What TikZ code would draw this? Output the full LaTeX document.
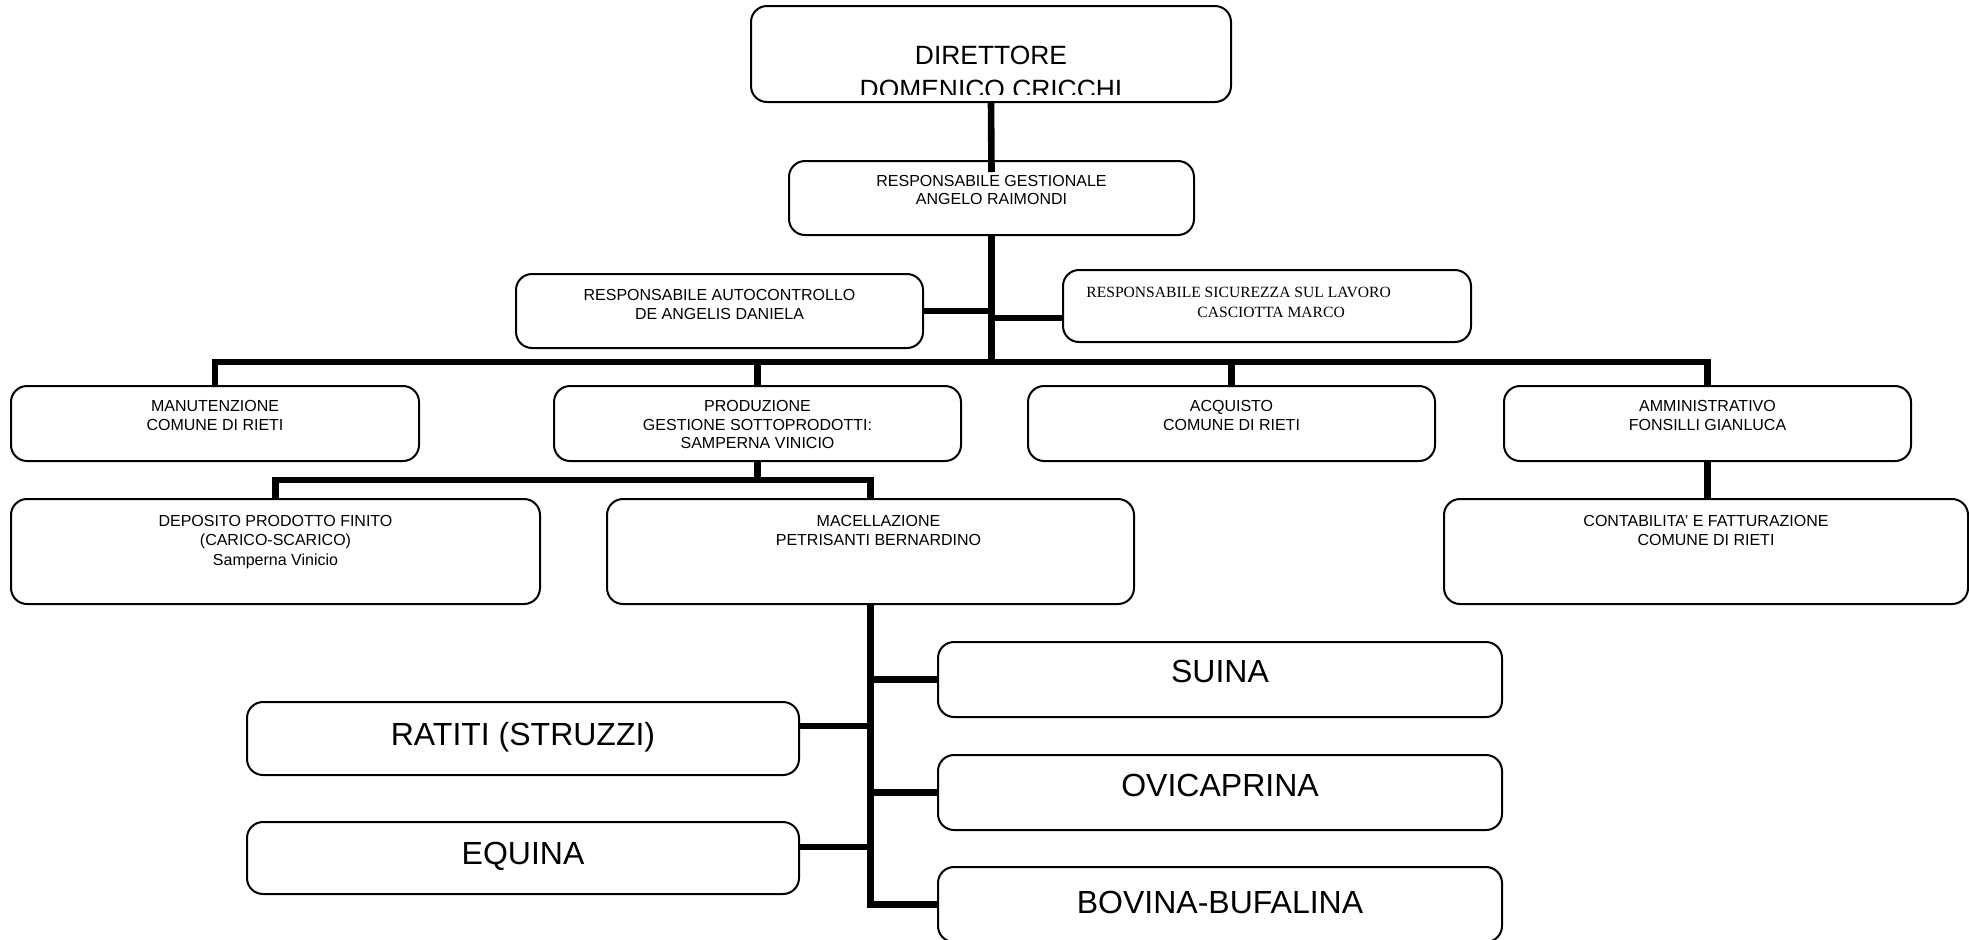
\documentclass[tikz,border=0pt]{standalone}
\usepackage{fontspec}
\setmainfont{Liberation Sans}
\newfontfamily\timesfont{Liberation Serif}
\usetikzlibrary{calc}
\begin{document}
\begin{tikzpicture}[x=0.5pt,y=-0.5pt,
  orgbox/.style 2 args={draw, line width=1pt, rounded corners=8pt, fill=white,
    inner sep=0pt, minimum width=#1*0.5pt, minimum height=#2*0.5pt},
  conn/.style={line width=3.3pt, line join=miter},
  st/.style={inner sep=0pt, anchor=base, font=\fontsize{8pt}{9.5pt}\selectfont},
  sst/.style={inner sep=0pt, anchor=base west, font=\timesfont\fontsize{7.8pt}{9.5pt}\selectfont},
  bt/.style={inner sep=0pt, anchor=base, font=\fontsize{16pt}{19pt}\selectfont},
  dt/.style={inner sep=0pt, anchor=base, font=\fontsize{13.2pt}{16pt}\selectfont}]
\useasboundingbox (0,0) rectangle (1969,939);

% boxes
\node[orgbox={480}{96}] (dir) at (991,54) {};
\node[orgbox={405}{74}] (gest) at (991.5,198) {};
\node[orgbox={407}{74}] (auto) at (719.5,311) {};
\node[orgbox={408}{72}] (sic) at (1267,306) {};
\node[orgbox={408}{75}] (manu) at (215,423.5) {};
\node[orgbox={407}{75}] (prod) at (757.5,423.5) {};
\node[orgbox={407}{75}] (acq) at (1231.5,423.5) {};
\node[orgbox={407}{75}] (amm) at (1707.5,423.5) {};
\node[orgbox={529}{105}] (depo) at (275.5,551.5) {};
\node[orgbox={527}{105}] (mac) at (870.5,551.5) {};
\node[orgbox={524}{105}] (cont) at (1706,551.5) {};
\node[orgbox={564}{75}] (suina) at (1220,679.5) {};
\node[orgbox={564}{75}] (ovi) at (1220,792.5) {};
\node[orgbox={564}{75}] (bov) at (1220,904.5) {};
\node[orgbox={552}{73}] (ratiti) at (523,738.5) {};
\node[orgbox={552}{72}] (equina) at (523,858) {};

% texts
\begin{scope}
\clip (751,6) rectangle (1231,94);
\node[dt] (dir1) at ($(dir.north)+(0,59)$) {DIRETTORE};
\node[dt] (dir2) at ($(dir.north)+(0,93)$) {DOMENICO CRICCHI};
\end{scope}
\node[st] (gest1) at ($(gest.north)+(0,26)$) {RESPONSABILE GESTIONALE};
\node[st] (gest2) at ($(gest.north)+(0,44)$) {ANGELO RAIMONDI};
\node[st] (auto1) at ($(auto.north)+(0,27)$) {RESPONSABILE AUTOCONTROLLO};
\node[st] (auto2) at ($(auto.north)+(0,46)$) {DE ANGELIS DANIELA};
\node[sst] (sic1) at ($(sic.north west)+(24,28)$) {RESPONSABILE SICUREZZA SUL LAVORO};
\node[sst] (sic2) at ($(sic.north west)+(135,48)$) {CASCIOTTA MARCO};
\node[st] (manu1) at ($(manu.north)+(0,26)$) {MANUTENZIONE};
\node[st] (manu2) at ($(manu.north)+(0,45)$) {COMUNE DI RIETI};
\node[st] (prod1) at ($(prod.north)+(0,26)$) {PRODUZIONE};
\node[st] (prod2) at ($(prod.north)+(0,45)$) {GESTIONE SOTTOPRODOTTI:};
\node[st] (prod3) at ($(prod.north)+(0,63)$) {SAMPERNA VINICIO};
\node[st] (acq1) at ($(acq.north)+(0,26)$) {ACQUISTO};
\node[st] (acq2) at ($(acq.north)+(0,45)$) {COMUNE DI RIETI};
\node[st] (amm1) at ($(amm.north)+(0,26)$) {AMMINISTRATIVO};
\node[st] (amm2) at ($(amm.north)+(0,45)$) {FONSILLI GIANLUCA};
\node[st] (depo1) at ($(depo.north)+(0,28)$) {DEPOSITO PRODOTTO FINITO};
\node[st] (depo2) at ($(depo.north)+(0,47)$) {(CARICO-SCARICO)};
\node[st] (depo3) at ($(depo.north)+(0,67)$) {Samperna Vinicio};
\node[st] (mac1) at ($(mac.north)+(8,28)$) {MACELLAZIONE};
\node[st] (mac2) at ($(mac.north)+(8,47)$) {PETRISANTI BERNARDINO};
\node[st] (cont1) at ($(cont.north)+(0,28)$) {CONTABILITA' E FATTURAZIONE};
\node[st] (cont2) at ($(cont.north)+(0,47)$) {COMUNE DI RIETI};
\node[bt] (suina1) at ($(suina.north)+(0,41)$) {SUINA};
\node[bt] (ovi1) at ($(ovi.north)+(0,42)$) {OVICAPRINA};
\node[bt] (bov1) at ($(bov.north)+(0,47)$) {BOVINA-BUFALINA};
\node[bt] (ratiti1) at ($(ratiti.north)+(0,44)$) {RATITI (STRUZZI)};
\node[bt] (equina1) at ($(equina.north)+(0,43)$) {EQUINA};

% connectors
\coordinate (bus) at (991.5,362);
\coordinate (pbus) at (757.5,480);
\coordinate (sicin) at ($(sic.west)+(0,12)$);
\coordinate (ratin) at ($(ratiti.east)+(0,-12.5)$);
\coordinate (equin) at ($(equina.east)+(0,-11)$);
\draw[conn] (dir.south) -- ($(gest.north)+(0,12)$);
\draw[conn] (gest.south) -- (bus);
\draw[conn] (auto.east) -- (auto.east -| gest.south);
\draw[conn] (sicin) -- (sicin -| gest.south);
\draw[conn] (manu.north) |- (bus) -| (amm.north);
\draw[conn] (prod.north) -- (prod.north |- bus);
\draw[conn] (acq.north) -- (acq.north |- bus);
\draw[conn] (prod.south) -- (pbus);
\draw[conn] (depo.north) |- (pbus) -| (mac.north);
\draw[conn] (amm.south) -- (amm.south |- cont.north);
\draw[conn] (mac.south) |- (bov.west);
\draw[conn] (suina.west) -- (suina.west -| mac.south);
\draw[conn] (ovi.west) -- (ovi.west -| mac.south);
\draw[conn] (ratin) -- (ratin -| mac.south);
\draw[conn] (equin) -- (equin -| mac.south);
\end{tikzpicture}
\end{document}
